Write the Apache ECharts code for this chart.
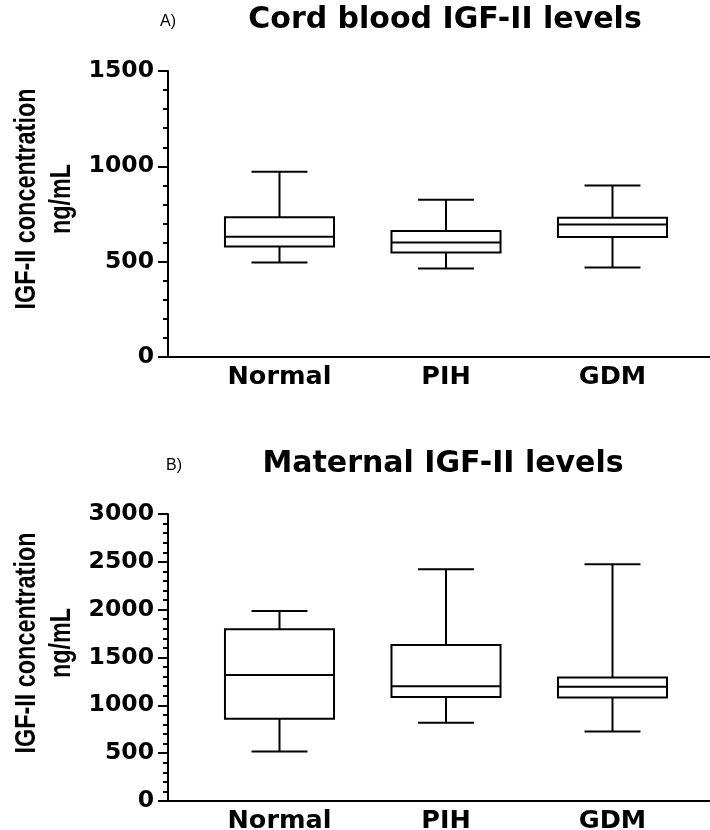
<!DOCTYPE html>
<html>
<head>
<meta charset="utf-8">
<title>IGF-II levels</title>
<script src="https://cdn.jsdelivr.net/npm/echarts@6/dist/echarts.min.js"></script>
<style>
  html, body { margin: 0; padding: 0; background: #fff; }
  #chart { width: 710px; height: 830px; }
</style>
</head>
<body>
<div id="chart"></div>
<script>
// groups on the x axis
const groups = ["Normal", "PIH", "GDM"];

// A) cord blood, ng/mL
const cordMin = [495, 464, 470];
const cordQ1 = [579, 548, 630];
const cordMedian = [631, 601, 695];
const cordQ3 = [733, 661, 730];
const cordMax = [971, 825, 900];
const cordAxisMax = 1500;

// B) maternal, ng/mL
const matMin = [518, 818, 727];
const matQ1 = [860, 1088, 1081];
const matMedian = [1318, 1199, 1193];
const matQ3 = [1794, 1630, 1290];
const matMax = [1986, 2423, 2476];
const matAxisMax = 3000;

const tickStep = 500;
const yTitle = "IGF-II concentration\nng/mL";

const boldFont = "'DejaVu Sans', sans-serif";
const arialFont = "'Liberation Sans', Arial, sans-serif";

function boxRows(mins, q1s, meds, q3s, maxs) {
  return groups.map((g, i) => [i, mins[i], q1s[i], meds[i], q3s[i], maxs[i]]);
}

// box + whiskers, caps are half the box width
function renderBox(params, api) {
  const idx = api.value(0);
  const lo = api.coord([idx, api.value(1)]);
  const q1 = api.coord([idx, api.value(2)]);
  const med = api.coord([idx, api.value(3)]);
  const q3 = api.coord([idx, api.value(4)]);
  const hi = api.coord([idx, api.value(5)]);
  const band = api.size([1, 0])[0];
  const bw = band * 0.655;
  const cw = band * 0.336;
  const x = lo[0];
  const line = { stroke: "#000", lineWidth: 2 };
  return {
    type: "group",
    children: [
      { type: "line", shape: { x1: x, y1: hi[1], x2: x, y2: q3[1] }, style: line },
      { type: "line", shape: { x1: x, y1: q1[1], x2: x, y2: lo[1] }, style: line },
      { type: "line", shape: { x1: x - cw / 2, y1: hi[1], x2: x + cw / 2, y2: hi[1] }, style: line },
      { type: "line", shape: { x1: x - cw / 2, y1: lo[1], x2: x + cw / 2, y2: lo[1] }, style: line },
      {
        type: "rect",
        shape: { x: x - bw / 2, y: q3[1], width: bw, height: q1[1] - q3[1] },
        style: { fill: "#fff", stroke: "#000", lineWidth: 2 }
      },
      { type: "line", shape: { x1: x - bw / 2, y1: med[1], x2: x + bw / 2, y2: med[1] }, style: line }
    ]
  };
}

// visible y axis + full-width x axis line
function frameAxes(gridIndex, max) {
  const y = {
    gridIndex: gridIndex,
    type: "value",
    min: 0,
    max: max,
    interval: tickStep,
    axisLine: { show: true, lineStyle: { color: "#000", width: 2 } },
    axisTick: { show: true, length: 10, lineStyle: { color: "#000", width: 2 } },
    minorTick: { show: true, splitNumber: 5, length: 5, lineStyle: { color: "#000", width: 2 } },
    axisLabel: {
      margin: 14,
      fontFamily: boldFont,
      fontWeight: "bold",
      fontSize: 23.5,
      color: "#000",
      formatter: v => String(v)
    },
    splitLine: { show: false }
  };
  const x = {
    gridIndex: gridIndex,
    type: "value",
    min: 0,
    max: 1,
    axisLine: { show: true, onZero: false, lineStyle: { color: "#000", width: 2 } },
    axisTick: { show: false },
    axisLabel: { show: false },
    splitLine: { show: false }
  };
  return { x, y };
}

// category axis used by the boxes
function boxAxes(gridIndex, max) {
  const x = {
    gridIndex: gridIndex,
    type: "category",
    data: groups,
    axisLine: { show: false },
    axisTick: { show: false },
    axisLabel: { margin: 7, fontFamily: boldFont, fontWeight: "bold", fontSize: 25.5, color: "#000" }
  };
  const y = { gridIndex: gridIndex, type: "value", min: 0, max: max, show: false };
  return { x, y };
}

// rotated, condensed y axis title
function yTitleText(cy) {
  return {
    type: "text",
    x: 44,
    y: cy,
    rotation: Math.PI / 2,
    scaleX: 0.78,
    style: {
      text: yTitle,
      font: "bold 30px " + arialFont,
      lineHeight: 35,
      align: "center",
      verticalAlign: "middle",
      fill: "#000"
    }
  };
}

const frameA = frameAxes(0, cordAxisMax);
const boxA = boxAxes(1, cordAxisMax);
const frameB = frameAxes(2, matAxisMax);
const boxB = boxAxes(3, matAxisMax);

const chart = echarts.init(document.getElementById("chart"), null, { renderer: "canvas" });

chart.setOption({
  backgroundColor: "#fff",
  animation: false,
  title: [
    {
      text: "Cord blood IGF-II levels",
      left: 445, top: 20, padding: 0,
      textAlign: "center", textVerticalAlign: "middle",
      textStyle: { fontFamily: boldFont, fontWeight: "bold", fontSize: 30, color: "#000" }
    },
    {
      text: "A)",
      left: 160, top: 22, padding: 0,
      textAlign: "left", textVerticalAlign: "middle",
      textStyle: { fontFamily: arialFont, fontWeight: "normal", fontSize: 16, color: "#000" }
    },
    {
      text: "Maternal IGF-II levels",
      left: 443, top: 464, padding: 0,
      textAlign: "center", textVerticalAlign: "middle",
      textStyle: { fontFamily: boldFont, fontWeight: "bold", fontSize: 30, color: "#000" }
    },
    {
      text: "B)",
      left: 166, top: 466, padding: 0,
      textAlign: "left", textVerticalAlign: "middle",
      textStyle: { fontFamily: arialFont, fontWeight: "normal", fontSize: 16, color: "#000" }
    }
  ],
  graphic: [yTitleText(199), yTitleText(643)],
  grid: [
    { left: 168, right: 0, top: 71, height: 286, outerBoundsMode: "none" },
    { left: 196.25, width: 499.5, top: 71, height: 286, outerBoundsMode: "none" },
    { left: 168, right: 0, top: 514, height: 287, outerBoundsMode: "none" },
    { left: 196.25, width: 499.5, top: 514, height: 287, outerBoundsMode: "none" }
  ],
  xAxis: [frameA.x, boxA.x, frameB.x, boxB.x],
  yAxis: [frameA.y, boxA.y, frameB.y, boxB.y],
  series: [
    {
      name: "Cord blood",
      type: "custom",
      xAxisIndex: 1,
      yAxisIndex: 1,
      renderItem: renderBox,
      encode: { x: 0, y: [1, 2, 3, 4, 5] },
      data: boxRows(cordMin, cordQ1, cordMedian, cordQ3, cordMax)
    },
    {
      name: "Maternal",
      type: "custom",
      xAxisIndex: 3,
      yAxisIndex: 3,
      renderItem: renderBox,
      encode: { x: 0, y: [1, 2, 3, 4, 5] },
      data: boxRows(matMin, matQ1, matMedian, matQ3, matMax)
    }
  ]
});
</script>
</body>
</html>
